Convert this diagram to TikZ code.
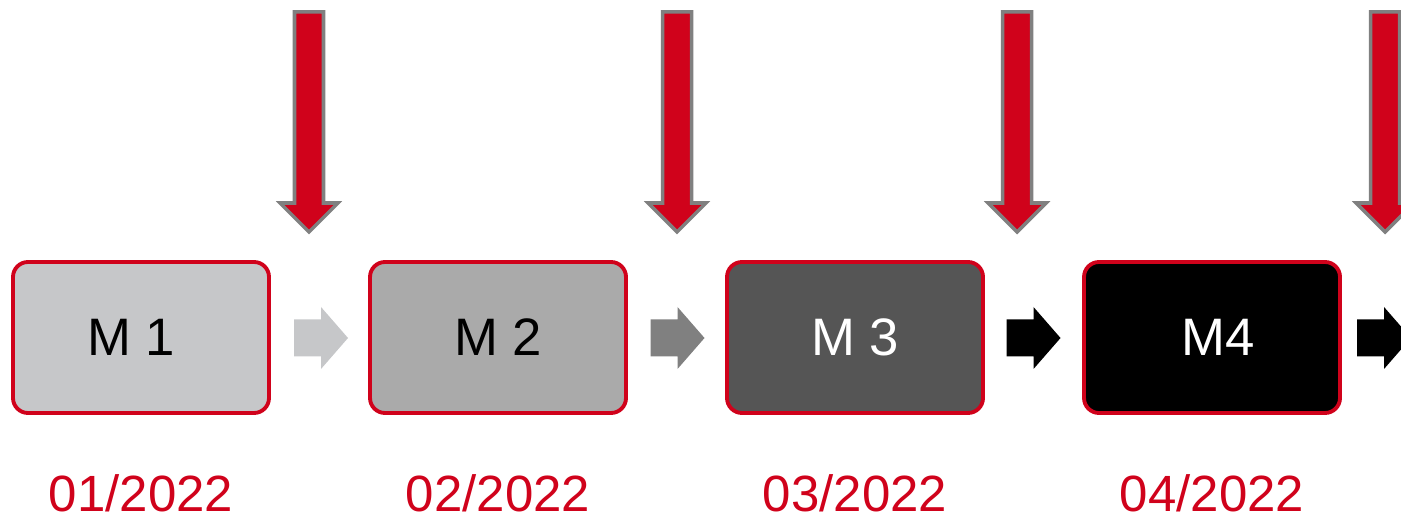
\documentclass[tikz,border=0pt]{standalone}
\usepackage{fontspec}
\setmainfont{Liberation Sans}
\usetikzlibrary{positioning}
\definecolor{mred}{HTML}{D0021B}
\definecolor{mgray}{HTML}{C6C7C9}
\definecolor{mgrey}{HTML}{AAAAAA}
\definecolor{mdark}{HTML}{555555}
\definecolor{arrowgray}{HTML}{808080}
\tikzset{
node distance=1.01cm, % gap between two boxes
month/.style={draw=mred, line width=1.1pt, rounded corners=0.15cm, minimum width=2.56cm, minimum height=1.51cm, outer sep=0pt, font=\fontsize{15}{18}\selectfont}, % every month box
datelabel/.style={text=mred, anchor=base, font=\fontsize{14.5}{17}\selectfont}, % dates under the boxes
step arrow/.pic={\fill (-0.27,-0.185) -- (0,-0.185) -- (0,-0.31) -- (0.27,0) -- (0,0.31) -- (0,0.185) -- (-0.27,0.185) -- cycle;}, % small arrow between boxes
drop arrow/.pic={\filldraw[fill=mred, draw=arrowgray, line width=1pt] (0,0) -- (-0.29,0.29) -- (-0.145,0.29) -- (-0.145,2.20) -- (0.145,2.20) -- (0.145,0.29) -- (0.29,0.29) -- cycle;}, % big red arrow, origin at its tip
}
\begin{document}
\begin{tikzpicture}
\useasboundingbox (0,0) rectangle (14.01,5.17);
\node[month, fill=mgray] (m1) at (1.41,1.795) {\hspace*{-0.2cm}M 1};
\node[month, fill=mgrey, right=of m1] (m2) {M 2};
\node[month, fill=mdark, text=white, right=of m2] (m3) {M 3};
\node[month, fill=black, text=white, right=of m3] (m4) {M4\hspace*{-0.12cm}};
\node[datelabel] (d1) at ([yshift=-0.98cm]m1.south) {01/2022};
\node[datelabel] (d2) at ([yshift=-0.98cm]m2.south) {02/2022};
\node[datelabel] (d3) at ([yshift=-0.98cm]m3.south) {03/2022};
\node[datelabel] (d4) at ([yshift=-0.98cm]m4.south) {04/2022};
% small arrows
\pic[mgray] at (3.21,1.79) {step arrow};
\pic[arrowgray] at (6.775,1.79) {step arrow};
\pic[black] at (10.335,1.79) {step arrow};
\pic[black] at (13.84,1.79) {step arrow};
% red arrows from above
\foreach \x in {3.09,6.77,10.17,13.85}
  \pic at (\x,2.85) {drop arrow};
\end{tikzpicture}
\end{document}
